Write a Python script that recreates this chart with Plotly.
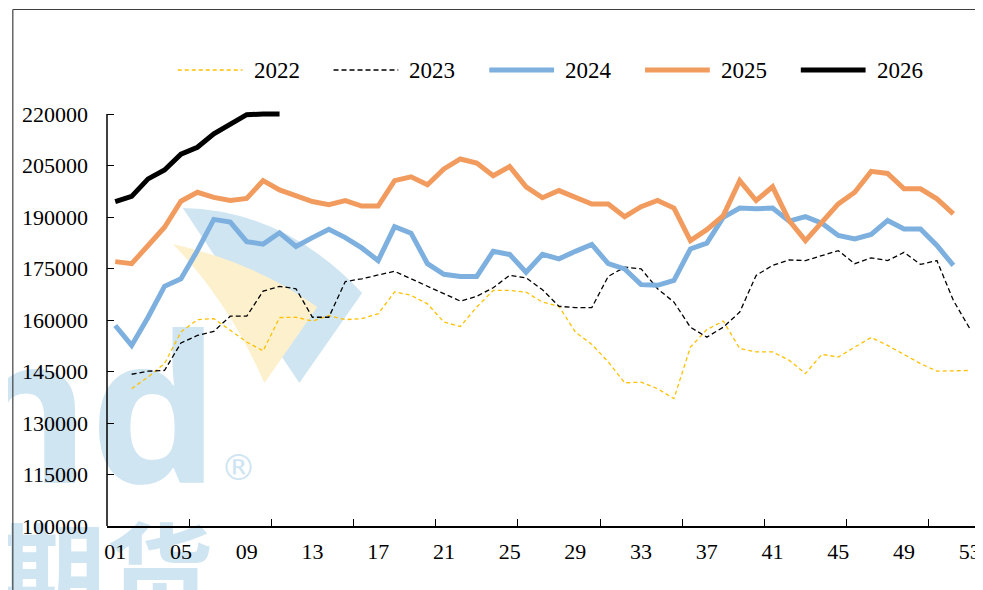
import base64

import plotly.graph_objects as go

# ── Data (weekly values, week 01..53) ────────────────────────────

weeks = list(range(1, 54))
tick_labels = ["01", "05", "09", "13", "17", "21", "25", "29", "33", "37", "41", "45", "49", "53"]
y_ticks = [100000, 115000, 130000, 145000, 160000, 175000, 190000, 205000, 220000]

y2022 = [None, 140000, 143400, 147300, 156500, 160100, 160400, 157000, 153600, 151000,
         160700, 160800, 159700, 161300, 160100, 160400, 161800, 168200, 167200, 164700,
         159400, 158100, 163800, 168600, 168600, 168100, 165200, 164000, 156500, 152900,
         147800, 141700, 141900, 140000, 137100, 152100, 157200, 159700, 151700, 150700,
         150700, 148300, 144400, 150000, 149200, 152100, 154900, 152600, 150000, 147300,
         145100, 145300, 145300]
y2023 = [None, 144200, 145100, 145300, 153300, 155500, 156700, 161100, 161100, 168400,
         169800, 169100, 160800, 160800, 171200, 172000, 173000, 174200, 172000, 169800,
         167600, 165500, 166900, 169400, 173000, 172300, 168800, 164000, 163600, 163600,
         172700, 175400, 174900, 169100, 165200, 157900, 155000, 157900, 162300, 173000,
         175900, 177500, 177300, 178800, 180200, 176400, 178100, 177300, 179700, 176200,
         177300, 165700, 157500]
y2024 = [158400, 152600, 160800, 169800, 172000, 180200, 189300, 188500, 182800, 182100,
         185400, 181400, 184000, 186400, 184000, 181000, 177300, 187200, 185300, 176400,
         173300, 172700, 172700, 180000, 179100, 173900, 179100, 177800, 180000, 182000,
         176400, 174900, 170300, 170100, 171500, 180700, 182400, 189900, 192600, 192400,
         192600, 188800, 190100, 188200, 184600, 183600, 184900, 189000, 186500, 186500,
         181700, 175900, None]
y2025 = [177000, 176400, 181700, 187000, 194600, 197200, 195700, 194800, 195400, 200600,
         197900, 196200, 194500, 193600, 194800, 193200, 193200, 200600, 201700, 199400,
         204000, 206900, 205700, 202000, 204700, 198800, 195600, 197700, 195700, 193800,
         193800, 190100, 193000, 194800, 192600, 183100, 186300, 190400, 200600, 194800,
         198800, 189000, 183100, 188500, 193800, 197200, 203300, 202700, 198200, 198200,
         195300, 190900, None]
y2026 = [194500, 196000, 201100, 203700, 208300, 210300, 214200, 217200, 219800, 220000,
         220000]

# ── Style ────────────────────────────────────────────────────────

_SERIES = [
    ("2022", y2022, "#FFC000", 1.3, "4px,3px"),
    ("2023", y2023, "#000000", 1.3, "5px,3px"),
    ("2024", y2024, "#7DB0DE", 5, "solid"),
    ("2025", y2025, "#F29B5F", 5, "solid"),
    ("2026", y2026, "#000000", 5, "solid"),
]

# the page body has an 8px margin, so the figure starts at (8, 8) in the window
WIN_W, WIN_H, OFF = 983, 590, 8
W, H = WIN_W - OFF, WIN_H - OFF
ML, MR, MT, MB = 99, 2, 101, 64
PW, PH = W - ML - MR, H - MT - MB
FONT = dict(family="Liberation Serif", size=22, color="black")
LEGEND_FONT = dict(family="Liberation Serif", size=23, color="black")


def px_x(px: float) -> float:
    """window pixel x -> paper x"""
    return (px - OFF - ML) / PW


def px_y(py: float) -> float:
    """window pixel y -> paper y"""
    return (H - MB - (py - OFF)) / PH


# value range so that 220000 sits 5px below the plot top (room for the thick line)
y_lo, y_hi = y_ticks[0], y_ticks[-1]
y_top = y_hi + 5 * (y_hi - y_lo) / (PH - 5)

# ── Watermark (background image, window pixel coords) ────────────

_WM = f"""<svg xmlns='http://www.w3.org/2000/svg' width='{WIN_W}' height='{WIN_H}' viewBox='0 0 {WIN_W} {WIN_H}'>
<path d='M183,208 Q285,210 363,293 L300,383 Z' fill='#CFE5F2'/>
<path d='M173,244 Q255,262 318,307 L265,383 Q228,300 173,244 Z' fill='#FDF0CD'/>
<text x='219' y='483' text-anchor='end' font-family='Noto Sans' font-weight='bold'
 font-size='205' fill='#CFE5F2'>nd</text>
<text x='239' y='480' text-anchor='middle' font-family='DejaVu Sans' font-size='36'
 fill='#CFE5F2'>®</text>
<text x='214' y='614' text-anchor='end' font-family='Noto Sans CJK SC' font-weight='bold'
 font-size='108' fill='#CFE5F2'>期货</text>
</svg>"""
_WM_URI = "data:image/svg+xml;base64," + base64.b64encode(_WM.encode("utf-8")).decode()

# ── Figure ───────────────────────────────────────────────────────

fig = go.Figure()
for name, vals, color, width, dash in _SERIES:
    fig.add_trace(
        go.Scatter(
            x=weeks[: len(vals)],
            y=vals,
            name=name,
            mode="lines",
            line=dict(color=color, width=width, dash=dash),
            connectgaps=False,
            hoverinfo="skip",
        )
    )

shapes = [
    # y axis line (stops at the top tick)
    dict(type="line", xref="paper", yref="y", x0=0, x1=0, y0=y_lo, y1=y_hi,
         line=dict(color="black", width=1.5)),
    # outer chart frame (left / top)
    dict(type="line", xref="paper", yref="paper", x0=px_x(12.5), x1=px_x(12.5),
         y0=px_y(9.5), y1=px_y(WIN_H + 5), line=dict(color="#404040", width=1.2)),
    dict(type="line", xref="paper", yref="paper", x0=px_x(12.5), x1=px_x(WIN_W + 5),
         y0=px_y(9.5), y1=px_y(9.5), line=dict(color="#404040", width=1.2)),
]
annotations = []

# hand-drawn legend (long line samples like the original)
leg_x0, leg_step, leg_y = 178, 156.3, 70
for i, (name, _, color, width, dash) in enumerate(_SERIES):
    x0 = leg_x0 + i * leg_step
    shapes.append(
        dict(type="line", xref="paper", yref="paper", x0=px_x(x0), x1=px_x(x0 + 65),
             y0=px_y(leg_y), y1=px_y(leg_y),
             line=dict(color=color, width=width, dash=dash))
    )
    annotations.append(
        dict(xref="paper", yref="paper", x=px_x(x0 + 74), y=px_y(leg_y + 1),
             xanchor="left", yanchor="middle", text=name, showarrow=False,
             font=LEGEND_FONT)
    )

minor_ticks = [w + 0.5 for w in weeks if w % 5 == 0]

fig.update_layout(
    width=W,
    height=H,
    margin=dict(l=ML, r=MR, t=MT, b=MB),
    paper_bgcolor="white",
    plot_bgcolor="rgba(0,0,0,0)",
    showlegend=False,
    font=FONT,
    shapes=shapes,
    annotations=annotations,
    images=[
        dict(source=_WM_URI, xref="paper", yref="paper", x=px_x(0), y=px_y(0),
             sizex=WIN_W / PW, sizey=WIN_H / PH, xanchor="left", yanchor="top",
             sizing="stretch", layer="below")
    ],
    xaxis=dict(
        range=[0.5, len(weeks) + 0.5],
        tickmode="array",
        tickvals=[int(t) for t in tick_labels],
        ticktext=tick_labels,
        ticks="",
        showline=True,
        linecolor="black",
        linewidth=1.5,
        showgrid=False,
        zeroline=False,
        ticklabelstandoff=5,
        ticklabeloverflow="allow",
        tickfont=FONT,
        minor=dict(tickmode="array", tickvals=minor_ticks, ticks="inside",
                   ticklen=7, tickwidth=1, tickcolor="black", showgrid=False),
    ),
    yaxis=dict(
        range=[y_lo, y_top],
        tickmode="array",
        tickvals=y_ticks,
        ticktext=[str(v) for v in y_ticks],
        ticks="inside",
        ticklen=7,
        tickwidth=1,
        tickcolor="black",
        showline=False,
        showgrid=False,
        zeroline=False,
        ticklabelstandoff=18,
        tickfont=FONT,
    ),
)

fig.write_html("out.html")
